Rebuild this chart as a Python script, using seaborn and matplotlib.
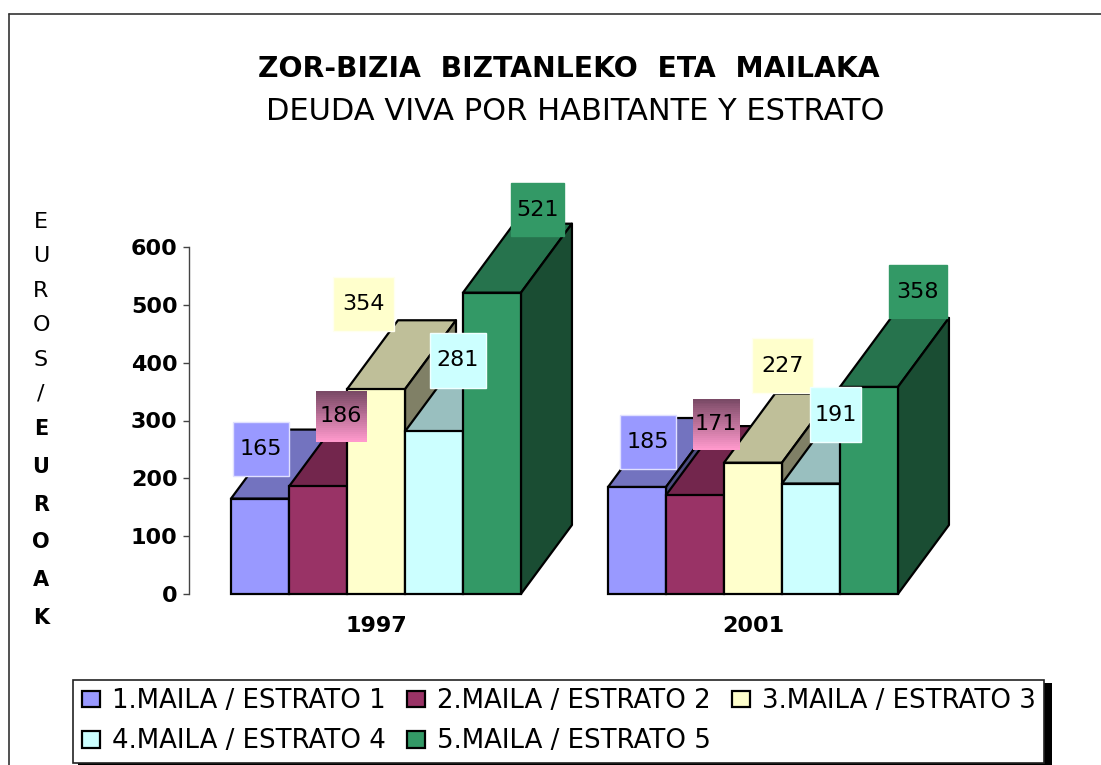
import numpy as np
import pandas as pd
import seaborn as sns
import matplotlib.pyplot as plt
from matplotlib.colors import to_rgb
from matplotlib.lines import Line2D
from matplotlib.patches import Polygon, Rectangle
from matplotlib.transforms import IdentityTransform

W, H = 1101, 765

years = ['1997', '2001']
estratos = ['1.MAILA / ESTRATO 1', '2.MAILA / ESTRATO 2', '3.MAILA / ESTRATO 3',
            '4.MAILA / ESTRATO 4', '5.MAILA / ESTRATO 5']
values_1997 = [165, 186, 354, 281, 521]
values_2001 = [185, 171, 227, 191, 358]
colors = ['#9999ff', '#993366', '#ffffcc', '#ccffff', '#339966']
yticks = [0, 100, 200, 300, 400, 500, 600]
ylabel_es = ['E', 'U', 'R', 'O', 'S', '/']
ylabel_eu = ['E', 'U', 'R', 'O', 'A', 'K']

# label box centre relative to top centre of the bar, in pixels (x right, y up)
label_offsets = {
    '1997': [(1, 50), (23, 70), (-12, 85), (24, 71), (46, 83)],
    '2001': [(11, 45), (21, 71), (30, 97), (25, 69), (49, 95)],
}
label_sizes = {
    '1997': [(56, 54), (51, 51), (61, 54), (56, 55), (53, 53)],
    '2001': [(56, 54), (47, 51), (61, 55), (51, 55), (58, 53)],
}

df = pd.DataFrame({
    'year': np.repeat(years, len(estratos)),
    'estrato': estratos * len(years),
    'value': values_1997 + values_2001,
})


def px(x, y):
    return x / W, 1 - y / H


def shade(color, k):
    return tuple(c * k for c in to_rgb(color))


sns.set_theme(style='white')
plt.rcParams['font.family'] = ['DejaVu Sans']
plt.rcParams['text.color'] = 'black'

fig = plt.figure(figsize=(W / 100, H / 100), dpi=100, facecolor='white')
ax = fig.add_axes([189 / W, (H - 594) / H, 754 / W, 347 / H])
ax.patch.set_visible(False)

sns.barplot(data=df, x='year', y='value', hue='estrato', hue_order=estratos,
            palette=colors, width=0.769, gap=0, saturation=1, edgecolor='black',
            linewidth=1.6, ax=ax)

ax.set_xlim(-0.496, 1.504)
ax.set_ylim(0, 600)
ax.set_yticks(yticks)
ax.set_xlabel('')
ax.set_ylabel('')
sns.despine(ax=ax, bottom=True)
ax.spines['left'].set_color('#444444')
ax.spines['left'].set_linewidth(1)
ax.tick_params(axis='y', left=True, length=4.3, width=1, color='#444444', pad=4,
               labelsize=16, labelcolor='black')
ax.tick_params(axis='x', bottom=False, pad=10, labelsize=16, labelcolor='black')
for t in ax.get_xticklabels() + ax.get_yticklabels():
    t.set_fontweight('bold')

# depth of the 3d look, in data units
depth_x = 51 / 377
depth_y = 69 / 347 * 600

for i, bars in enumerate(ax.containers):
    for j, bar in enumerate(bars):
        x0 = bar.get_x()
        x1 = x0 + bar.get_width()
        top = bar.get_height()
        z = 10 + i
        ax.add_patch(Polygon([(x0, top), (x1, top), (x1 + depth_x, top + depth_y),
                              (x0 + depth_x, top + depth_y)], closed=True,
                             facecolor=shade(colors[i], 0.75), edgecolor='black',
                             linewidth=1.6, joinstyle='round', clip_on=False, zorder=z))
        ax.add_patch(Polygon([(x1, 0), (x1, top), (x1 + depth_x, top + depth_y),
                              (x1 + depth_x, depth_y)], closed=True,
                             facecolor=shade(colors[i], 0.5), edgecolor='black',
                             linewidth=1.6, joinstyle='round', clip_on=False, zorder=z))
        bar.set_zorder(z + 0.5)
        bar.set_clip_on(False)

        # value label in a coloured box
        year = years[j]
        dx, dy = label_offsets[year][i]
        bw, bh = label_sizes[year][i]
        cx, cy = ax.transData.transform((x0 + bar.get_width() / 2, top))
        cx, cy = cx + dx, cy + dy
        if i == 1:
            # the second series has a dark to pink gradient
            for k, c in enumerate(np.linspace(0, 1, 26)):
                col = tuple(np.array(to_rgb('#ff99cc')) * c + np.array(to_rgb('#7a4a66')) * (1 - c))
                ytop = cy + bh / 2 - k * bh / 26
                fig.add_artist(Rectangle((cx - bw / 2, ytop - bh / 26 - 0.5), bw, bh / 26 + 0.5,
                                         transform=IdentityTransform(), facecolor=col,
                                         edgecolor='none', zorder=50))
        else:
            edge = tuple(0.3 * np.array(to_rgb(colors[i])) + 0.7) if i != 4 else colors[i]
            fig.add_artist(Rectangle((cx - bw / 2, cy - bh / 2), bw, bh,
                                     transform=IdentityTransform(), facecolor=colors[i],
                                     edgecolor=edge, linewidth=1, zorder=50))
        fig.add_artist(plt.Text(cx, cy, str(int(top)), transform=IdentityTransform(),
                                ha='center', va='center', fontsize=16, color='black', zorder=51))

# stacked letters of the y label
for i, letter in enumerate(ylabel_es):
    fig.text(*px(41, 222 + i * 34.4), letter, ha='center', va='center', fontsize=16)
for i, letter in enumerate(ylabel_eu):
    fig.text(*px(41, 429 + i * 37.8), letter, ha='center', va='center', fontsize=15,
             fontweight='bold')

fig.text(*px(569, 69), 'ZOR-BIZIA  BIZTANLEKO  ETA  MAILAKA', ha='center', va='center',
         fontsize=20.3, fontweight='bold')
fig.text(*px(575, 111), 'DEUDA VIVA POR HABITANTE Y ESTRATO', ha='center', va='center',
         fontsize=22)

# outer frame, the picture is cropped at right and bottom
fig.add_artist(Line2D([9 / W, 1], [1 - 14 / H, 1 - 14 / H], color='#333333', linewidth=1.2))
fig.add_artist(Line2D([9 / W, 9 / W], [1 - 14 / H, 0], color='#333333', linewidth=1.2))

# legend shadow goes behind the legend box
fig.add_artist(Rectangle((78 / W, 0), (1052 - 78) / W, (H - 683) / H, facecolor='black',
                         edgecolor='none', zorder=0))

handles, labels = ax.get_legend_handles_labels()
order = [0, 3, 1, 4, 2]  # legend fills by column, reference reads by row
leg = ax.legend([handles[i] for i in order], [labels[i] for i in order], ncol=3,
                loc='lower left', bbox_to_anchor=(73 / W, 2 / H), bbox_transform=fig.transFigure,
                borderaxespad=0, frameon=True, fancybox=False, edgecolor='#222222',
                framealpha=1, fontsize=18.7, handlelength=0.72, handleheight=0.6,
                handletextpad=0.45, columnspacing=0.8, labelspacing=0.54, borderpad=0.33)
leg.set_zorder(60)
leg.get_frame().set_linewidth(1.2)

fig.savefig('out.png', dpi=100)
